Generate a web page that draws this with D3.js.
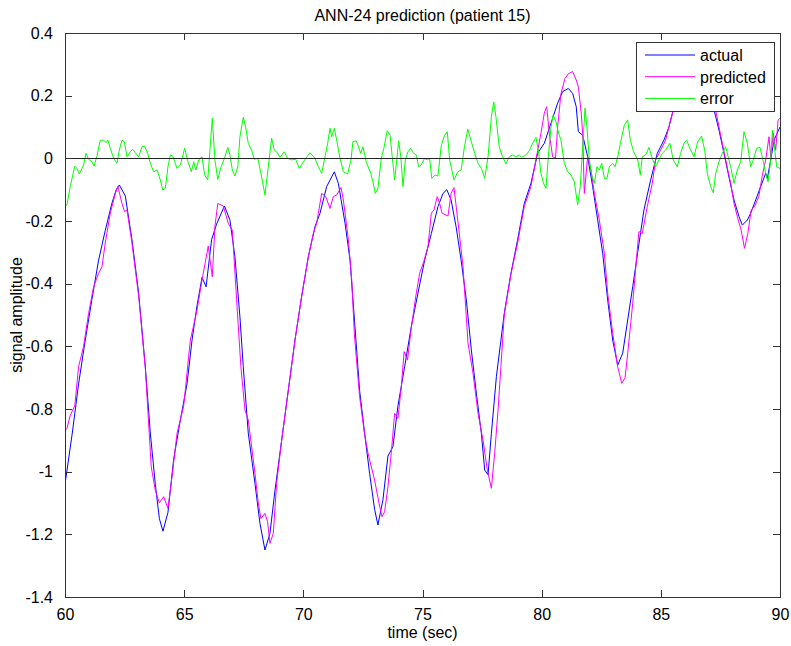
<!DOCTYPE html>
<html>
<head>
<meta charset="utf-8">
<script src="https://cdn.jsdelivr.net/npm/d3@7/dist/d3.min.js"></script>
<style>
  html, body { margin: 0; padding: 0; background: #fff; }
  svg { display: block; }
  text { font-family: "Liberation Sans", Arial, Helvetica, sans-serif; fill: #000; }
</style>
</head>
<body>
<svg id="chart" width="791" height="646"></svg>
<script>
// ---- data: time (s) / amplitude pairs for each trace ----
const actualTime = [60.00,60.30,60.57,60.85,61.13,61.41,61.69,61.97,62.15,62.28,62.53,62.81,63.09,63.37,63.58,63.79,63.96,64.11,64.32,64.56,64.84,65.12,65.33,65.54,65.75,65.92,66.15,66.36,66.69,66.92,67.13,67.34,67.48,67.69,67.97,68.18,68.39,68.60,68.81,69.09,69.37,69.65,69.93,70.21,70.49,70.70,70.98,71.30,71.47,71.75,71.96,72.15,72.36,72.57,72.78,72.99,73.13,73.34,73.55,73.76,73.97,74.25,74.53,74.81,75.09,75.37,75.65,75.86,76.02,76.20,76.41,76.62,76.84,77.05,77.26,77.47,77.61,77.75,77.89,78.10,78.43,78.71,78.99,79.27,79.55,79.83,80.11,80.39,80.67,80.88,81.12,81.30,81.45,81.54,81.72,81.93,82.14,82.35,82.56,82.77,82.98,83.19,83.40,83.61,83.82,84.03,84.29,84.57,84.85,85.13,85.34,85.52,85.80,86.10,86.40,86.70,87.00,87.23,87.44,87.65,87.86,88.07,88.28,88.42,88.63,88.77,88.98,89.19,89.40,89.47,89.61,89.75,90.00];
const actualAmp = [-1.04,-0.88,-0.72,-0.58,-0.45,-0.325,-0.23,-0.143,-0.10,-0.085,-0.12,-0.26,-0.43,-0.665,-0.877,-1.04,-1.15,-1.19,-1.13,-0.96,-0.835,-0.72,-0.58,-0.47,-0.38,-0.41,-0.26,-0.21,-0.152,-0.197,-0.314,-0.506,-0.665,-0.877,-1.037,-1.165,-1.25,-1.197,-1.06,-0.90,-0.74,-0.58,-0.44,-0.314,-0.218,-0.175,-0.09,-0.043,-0.08,-0.207,-0.325,-0.52,-0.74,-0.877,-1.005,-1.12,-1.17,-1.09,-0.95,-0.92,-0.79,-0.665,-0.537,-0.43,-0.325,-0.24,-0.154,-0.112,-0.10,-0.133,-0.218,-0.325,-0.452,-0.612,-0.75,-0.878,-0.995,-1.01,-0.878,-0.697,-0.495,-0.367,-0.26,-0.144,-0.08,0.016,0.048,0.112,0.176,0.213,0.223,0.207,0.165,0.085,0.074,0.005,-0.09,-0.197,-0.303,-0.452,-0.58,-0.66,-0.622,-0.516,-0.41,-0.30,-0.165,-0.07,0.016,0.058,0.10,0.154,0.22,0.27,0.29,0.27,0.21,0.155,0.09,0.016,-0.06,-0.133,-0.186,-0.213,-0.197,-0.175,-0.133,-0.09,-0.048,-0.064,-0.005,0.058,0.10];

const predictedTime = [60.00,60.08,60.22,60.41,60.57,60.78,60.99,61.20,61.41,61.55,61.69,61.90,62.11,62.22,62.39,62.50,62.60,62.81,63.09,63.37,63.62,63.79,63.96,64.14,64.32,64.49,64.70,64.98,65.26,65.54,65.75,66.01,66.18,66.29,66.41,66.64,66.85,67.02,67.20,67.38,67.55,67.69,67.97,68.11,68.22,68.39,68.50,68.60,68.74,68.88,69.09,69.37,69.65,69.93,70.21,70.42,70.56,70.77,70.94,71.12,71.26,71.40,71.58,71.68,71.89,72.03,72.14,72.36,72.57,72.71,72.99,73.20,73.30,73.41,73.55,73.69,73.83,73.97,74.11,74.23,74.37,74.53,74.72,74.88,75.05,75.23,75.37,75.48,75.62,75.72,75.82,76.07,76.20,76.32,76.48,76.70,76.91,77.12,77.33,77.54,77.72,77.89,78.03,78.17,78.29,78.43,78.71,78.99,79.27,79.55,79.76,79.97,80.11,80.21,80.32,80.46,80.58,80.67,80.81,80.98,81.12,81.30,81.45,81.54,81.66,81.72,81.79,81.93,82.07,82.21,82.42,82.63,82.77,82.98,83.19,83.36,83.50,83.61,83.82,84.01,84.08,84.22,84.43,84.64,84.78,84.99,85.20,85.41,85.70,86.00,86.30,86.60,86.90,87.10,87.30,87.44,87.58,87.72,87.93,88.07,88.21,88.37,88.51,88.65,88.79,88.93,89.11,89.25,89.40,89.54,89.61,89.72,89.82,89.92,90.00];
const predictedAmp = [-0.87,-0.862,-0.82,-0.79,-0.665,-0.60,-0.495,-0.41,-0.367,-0.346,-0.27,-0.175,-0.112,-0.09,-0.144,-0.17,-0.165,-0.27,-0.44,-0.67,-0.985,-1.06,-1.10,-1.08,-1.117,-1.016,-0.878,-0.79,-0.58,-0.484,-0.388,-0.28,-0.378,-0.218,-0.144,-0.152,-0.207,-0.229,-0.45,-0.665,-0.803,-0.835,-1.005,-1.10,-1.15,-1.133,-1.16,-1.229,-1.197,-1.037,-0.90,-0.74,-0.58,-0.44,-0.314,-0.24,-0.207,-0.112,-0.122,-0.16,-0.122,-0.117,-0.093,-0.133,-0.26,-0.388,-0.56,-0.76,-0.88,-0.94,-1.027,-1.11,-1.144,-1.128,-1.048,-0.94,-0.814,-0.83,-0.73,-0.617,-0.644,-0.54,-0.44,-0.367,-0.33,-0.282,-0.175,-0.165,-0.122,-0.144,-0.175,-0.184,-0.112,-0.093,-0.197,-0.346,-0.59,-0.686,-0.814,-0.90,-0.995,-1.053,-0.94,-0.803,-0.665,-0.50,-0.37,-0.27,-0.154,-0.09,-0.005,0.08,0.144,0.165,0.08,0.005,0.0,0.10,0.207,0.255,0.27,0.277,0.25,0.228,0.144,0.08,-0.112,0.005,-0.037,-0.112,-0.197,-0.303,-0.43,-0.558,-0.665,-0.718,-0.70,-0.622,-0.463,-0.293,-0.234,-0.24,-0.154,-0.08,-0.005,0.026,0.058,0.122,0.20,0.25,0.28,0.30,0.25,0.20,0.154,0.10,0.048,-0.005,-0.08,-0.144,-0.186,-0.229,-0.287,-0.24,-0.165,-0.154,-0.122,-0.058,-0.005,0.069,0.005,0.08,0.026,0.122,0.128];

const errorTime = [60.00,60.08,60.22,60.41,60.50,60.60,60.71,60.78,60.88,60.99,61.13,61.22,61.34,61.48,61.62,61.72,61.80,61.90,62.04,62.18,62.28,62.39,62.49,62.60,62.74,62.84,62.95,63.09,63.23,63.34,63.47,63.58,63.72,63.86,64.00,64.10,64.21,64.32,64.42,64.52,64.70,64.84,65.02,65.16,65.30,65.40,65.49,65.61,65.75,65.86,65.99,66.08,66.18,66.29,66.41,66.55,66.69,66.83,66.92,67.02,67.13,67.25,67.34,67.48,67.58,67.69,67.83,67.94,68.09,68.22,68.39,68.53,68.67,68.78,68.88,69.02,69.20,69.34,69.51,69.68,69.83,70.00,70.28,70.49,70.63,70.77,70.91,71.02,71.12,71.19,71.30,71.40,71.54,71.68,71.86,72.00,72.08,72.22,72.41,72.50,72.64,72.83,72.92,73.02,73.13,73.27,73.38,73.52,73.64,73.73,73.83,73.92,74.00,74.09,74.18,74.28,74.39,74.50,74.63,74.74,74.84,74.95,75.09,75.20,75.30,75.39,75.53,75.65,75.79,75.93,76.04,76.14,76.32,76.48,76.62,76.76,76.90,77.05,77.19,77.33,77.47,77.61,77.75,77.89,77.99,78.08,78.22,78.36,78.50,78.64,78.78,78.92,79.06,79.16,79.34,79.48,79.62,79.76,79.86,79.97,80.08,80.18,80.28,80.39,80.48,80.60,80.71,80.81,80.95,81.09,81.23,81.37,81.51,81.62,81.72,81.82,81.90,82.00,82.10,82.21,82.32,82.42,82.52,82.63,82.74,82.84,82.98,83.08,83.19,83.33,83.47,83.61,83.72,83.86,84.03,84.14,84.22,84.37,84.50,84.64,84.78,84.92,85.06,85.20,85.38,85.52,85.69,85.83,85.97,86.08,86.22,86.39,86.55,86.71,86.84,86.95,87.09,87.20,87.30,87.44,87.58,87.72,87.93,88.07,88.21,88.35,88.49,88.63,88.77,88.88,89.02,89.16,89.30,89.40,89.50,89.61,89.68,89.75,89.86,90.00];
const errorAmp = [-0.155,-0.149,-0.09,-0.025,-0.032,-0.05,-0.032,-0.021,0.016,-0.003,-0.011,-0.025,0.007,0.058,0.058,0.05,0.058,0.032,0.0,-0.016,0.026,0.058,0.053,0.005,0.021,0.029,0.018,0.005,0.037,0.039,0.016,-0.016,-0.043,-0.037,-0.069,-0.101,-0.096,-0.027,0.011,0.007,-0.032,-0.021,0.032,-0.011,-0.043,-0.011,-0.037,-0.005,0.005,-0.053,-0.069,0.026,0.128,-0.005,-0.067,-0.027,0.0,0.035,0.011,-0.037,-0.056,-0.027,0.069,0.131,0.10,0.048,0.026,-0.003,0.0,-0.048,-0.117,-0.027,0.064,0.026,0.021,0.003,0.021,0.0,-0.005,-0.003,-0.032,-0.011,0.018,0.0,-0.027,-0.048,0.005,0.048,0.096,0.069,0.096,0.058,0.0,-0.043,-0.05,-0.005,0.053,0.056,0.016,0.037,-0.011,-0.048,-0.075,-0.112,-0.096,0.0,0.032,0.088,0.074,0.005,-0.069,-0.005,0.056,0.005,-0.09,-0.005,0.021,0.032,0.016,0.011,-0.027,-0.021,0.0,-0.005,0.0,-0.064,-0.053,-0.056,0.042,0.074,0.085,-0.005,-0.069,-0.043,-0.037,0.037,0.093,0.053,0.016,-0.016,-0.032,-0.064,0.005,0.133,0.18,0.133,0.037,0.005,-0.018,0.005,0.011,0.005,0.011,0.003,0.011,0.024,0.048,0.067,0.026,-0.048,-0.08,-0.096,0.005,0.10,0.138,0.117,0.08,0.058,-0.016,-0.043,-0.053,-0.075,-0.149,-0.09,0.037,0.16,0.10,-0.005,-0.053,-0.08,-0.027,-0.037,-0.016,-0.064,-0.064,-0.027,-0.016,-0.027,0.005,0.058,0.106,0.122,0.058,0.021,-0.005,-0.053,0.005,0.011,0.035,0.0,-0.027,-0.005,0.016,0.026,0.048,-0.005,-0.027,0.016,0.048,0.058,0.032,0.005,0.053,0.071,0.026,-0.048,-0.09,-0.11,-0.048,-0.011,0.016,0.037,-0.027,-0.08,-0.037,-0.011,0.085,0.048,-0.027,-0.005,0.032,0.035,-0.011,-0.048,-0.075,-0.005,0.09,0.048,-0.027,-0.032];

const xTicks = [60, 65, 70, 75, 80, 85, 90];
const yTicks = [0.4, 0.2, 0, -0.2, -0.4, -0.6, -0.8, -1, -1.2, -1.4];
const yTickLabels = ["0.4", "0.2", "0", "-0.2", "-0.4", "-0.6", "-0.8", "-1", "-1.2", "-1.4"];
const seriesNames = ["actual", "predicted", "error"];
const seriesColors = ["#0000ff", "#ff00ff", "#00ff00"];

// ---- layout ----
const svg = d3.select("#chart");
const plot = { left: 65, right: 780, top: 33, bottom: 597 };
const FONT = 16;

const x = d3.scaleLinear().domain([60, 90]).range([plot.left, plot.right]);
const y = d3.scaleLinear().domain([-1.4, 0.4]).range([plot.bottom, plot.top]);

svg.append("defs").append("clipPath").attr("id", "plotClip")
  .append("rect")
  .attr("x", plot.left).attr("y", plot.top)
  .attr("width", plot.right - plot.left).attr("height", plot.bottom - plot.top);

// ---- traces ----
const line = d3.line().x(d => x(d[0])).y(d => y(d[1]));
const series = [
  d3.zip(actualTime, actualAmp),
  d3.zip(predictedTime, predictedAmp),
  d3.zip(errorTime, errorAmp)
];
const traces = svg.append("g").attr("clip-path", "url(#plotClip)");
series.forEach((pts, i) => {
  traces.append("path")
    .attr("d", line(pts))
    .attr("fill", "none")
    .attr("stroke", seriesColors[i])
    .attr("stroke-width", 1)
    .attr("stroke-linejoin", "round");
});

// zero reference line
traces.append("line")
  .attr("x1", x(60)).attr("x2", x(90))
  .attr("y1", y(0)).attr("y2", y(0))
  .attr("stroke", "#222").attr("stroke-width", 1)
  .attr("shape-rendering", "crispEdges");

// ---- axes (box with inward ticks on all four sides) ----
const tickLen = 7;
const fmtY = d => yTickLabels[yTicks.indexOf(d)];

function styleAxis(g) {
  g.select(".domain").remove();
  g.selectAll(".tick line").attr("stroke", "#333").attr("shape-rendering", "crispEdges");
  g.selectAll("text").attr("font-size", FONT).attr("fill", "#000")
    .attr("font-family", "'Liberation Sans', Arial, sans-serif");
}

svg.append("g").attr("transform", `translate(0,${plot.bottom})`)
  .call(d3.axisBottom(x).tickValues(xTicks).tickFormat(d3.format("d"))
    .tickSizeInner(-tickLen).tickSizeOuter(0).tickPadding(tickLen + 5))
  .call(styleAxis);

svg.append("g").attr("transform", `translate(0,${plot.top})`)
  .call(d3.axisTop(x).tickValues(xTicks).tickFormat("")
    .tickSizeInner(-tickLen).tickSizeOuter(0))
  .call(styleAxis);

svg.append("g").attr("transform", `translate(${plot.left},0)`)
  .call(d3.axisLeft(y).tickValues(yTicks).tickFormat(fmtY)
    .tickSizeInner(-tickLen).tickSizeOuter(0).tickPadding(tickLen + 5))
  .call(styleAxis);

svg.append("g").attr("transform", `translate(${plot.right},0)`)
  .call(d3.axisRight(y).tickValues(yTicks).tickFormat("")
    .tickSizeInner(-tickLen).tickSizeOuter(0))
  .call(styleAxis);

svg.append("rect")
  .attr("x", plot.left + 0.5).attr("y", plot.top + 0.5)
  .attr("width", plot.right - plot.left).attr("height", plot.bottom - plot.top)
  .attr("fill", "none").attr("stroke", "#333").attr("stroke-width", 1);

// ---- titles ----
const cx = (plot.left + plot.right) / 2;
svg.append("text")
  .attr("x", cx).attr("y", 21)
  .attr("text-anchor", "middle").attr("font-size", FONT)
  .text("ANN-24 prediction (patient 15)");

svg.append("text")
  .attr("x", cx).attr("y", 638)
  .attr("text-anchor", "middle").attr("font-size", FONT)
  .text("time (sec)");

svg.append("text")
  .attr("transform", `translate(22,${(plot.top + plot.bottom) / 2}) rotate(-90)`)
  .attr("text-anchor", "middle").attr("font-size", FONT)
  .text("signal amplitude");

// ---- legend ----
const legend = svg.append("g").attr("transform", "translate(636,42)");
legend.append("rect")
  .attr("x", 0.5).attr("y", 0.5).attr("width", 138).attr("height", 69)
  .attr("fill", "#fff").attr("stroke", "#333").attr("stroke-width", 1);
seriesNames.forEach((name, i) => {
  const ly = 13 + i * 21.7;
  legend.append("line")
    .attr("x1", 9).attr("x2", 59).attr("y1", ly).attr("y2", ly)
    .attr("stroke", seriesColors[i]).attr("stroke-width", 1);
  legend.append("text")
    .attr("x", 64).attr("y", ly + 6)
    .attr("font-size", FONT)
    .text(name);
});
</script>
</body>
</html>
